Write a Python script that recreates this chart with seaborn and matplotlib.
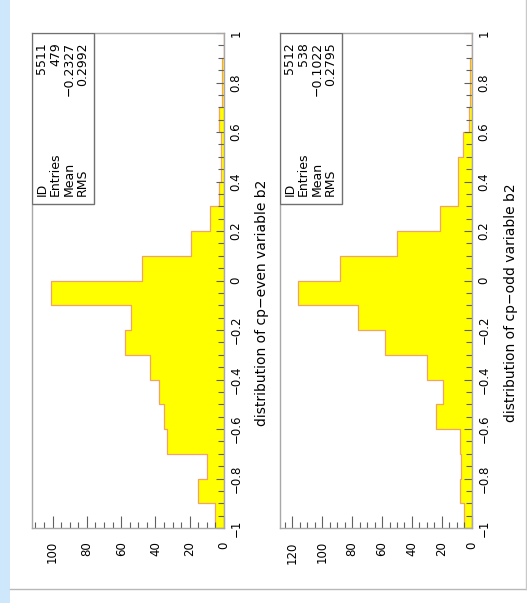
import numpy as np
import pandas as pd
import matplotlib
matplotlib.use("Agg")
import matplotlib.pyplot as plt
from matplotlib.ticker import MultipleLocator, FixedLocator, FixedFormatter
from matplotlib.patches import Rectangle
from matplotlib.lines import Line2D
import seaborn as sns

# ---------------- data ----------------
bin_edges = [-1.0, -0.9, -0.8, -0.7, -0.6, -0.5, -0.4, -0.3, -0.2, -0.1, 0.0,
             0.1, 0.2, 0.3, 0.4, 0.5, 0.6, 0.7, 0.8, 0.9, 1.0]
counts_even = [5, 15, 10, 33, 35, 38, 43, 58, 54, 101,
               48, 19, 8, 3, 2, 2, 3, 1, 1, 0]
counts_odd = [5, 8, 7, 8, 24, 19, 30, 58, 76, 116,
              88, 50, 21, 9, 9, 6, 2, 1, 1, 0]
titles = ["distribution of cp\u2212even variable b2",
          "distribution of cp\u2212odd variable b2"]
stat_labels = ["ID", "Entries", "Mean", "RMS"]
stats_even = ["5511", "479", "\u22120.2327", "0.2992"]
stats_odd = ["5512", "538", "\u22120.1022", "0.2795"]
value_ticks = [-1.0, -0.8, -0.6, -0.4, -0.2, 0.0, 0.2, 0.4, 0.6, 0.8, 1.0]
value_tick_labels = ["\u22121", "\u22120.8", "\u22120.6", "\u22120.4", "\u22120.2", "0",
                     "0.2", "0.4", "0.6", "0.8", "1"]
count_max = [112, 128]

# ---------------- figure ----------------
W, H = 527, 603
fig = plt.figure(figsize=(W / 100, H / 100), dpi=100)
fig.patch.set_facecolor("white")
plt.rcParams["font.family"] = ["DejaVu Sans"]

# page decorations
fig.patches.append(Rectangle((0, 0), 10 / W, 1, transform=fig.transFigure,
                             facecolor="#cfe7fb", edgecolor="none", zorder=0))
fig.lines.append(Line2D([10 / W, 1], [1 - 589 / H, 1 - 589 / H], transform=fig.transFigure,
                        color="#b8b8b8", lw=1))
fig.lines.append(Line2D([526 / W, 526 / W], [1 - 589 / H, 1], transform=fig.transFigure,
                        color="#c8c8c8", lw=1))

centers = [(a + b) / 2 for a, b in zip(bin_edges[:-1], bin_edges[1:])]
panels = [(32, counts_even, stats_even, titles[0], count_max[0], 262),
          (280, counts_odd, stats_odd, titles[1], count_max[1], 511)]

top, bottom = 33, 528
for (x0, counts, stats, title, cmax, lab_x) in panels:
    width = 192
    ax = fig.add_axes([x0 / W, 1 - bottom / H, width / W, (bottom - top) / H])
    df = pd.DataFrame({"value": centers, "count": counts})
    sns.histplot(data=df, y="value", weights="count", bins=bin_edges,
                 element="step", fill=True, facecolor="#ffff00",
                 edgecolor="#f2a468", linewidth=0.9, alpha=1, ax=ax)
    ax.set_xlabel("")
    ax.set_ylabel("")
    ax.set_xlim(cmax, 0)
    ax.set_ylim(-1, 1)
    for sp in ax.spines.values():
        sp.set_color("#a8a8a8")
        sp.set_linewidth(1)

    # count axis (horizontal, at bottom)
    ax.xaxis.set_major_locator(MultipleLocator(20))
    ax.xaxis.set_minor_locator(MultipleLocator(5))
    ax.tick_params(axis="x", which="major", direction="in", length=9, width=0.8,
                   color="#606060", bottom=True, top=False, labelbottom=True,
                   pad=9.5, labelsize=8.5, labelrotation=90)
    ax.tick_params(axis="x", which="minor", direction="in", length=4.5, width=0.8,
                   color="#606060", bottom=True, top=False)

    # value axis (vertical, at right)
    ax.yaxis.tick_right()
    ax.yaxis.set_major_locator(FixedLocator(value_ticks))
    ax.yaxis.set_major_formatter(FixedFormatter(value_tick_labels))
    ax.yaxis.set_minor_locator(MultipleLocator(0.05))
    ax.tick_params(axis="y", which="major", direction="in", length=6, width=0.8,
                   color="#606060", right=True, left=False, labelright=True,
                   labelleft=False, pad=4, labelsize=8.5, labelrotation=90)
    ax.tick_params(axis="y", which="minor", direction="in", length=4, width=0.8,
                   color="#606060", right=True, left=False)
    plt.setp(ax.get_yticklabels(), va="center", ha="left")

    # statistics box
    bw = 61.5 / width
    bh = (204 - top) / (bottom - top)
    ax.add_patch(Rectangle((0, 1 - bh), bw, bh, transform=ax.transAxes,
                           facecolor="white", edgecolor="#707070", lw=1, zorder=5))
    row_x = [42, 55.5, 69, 82.5]
    for rx, lab, val in zip(row_x, stat_labels, stats):
        fx = (rx - 32) / width
        ax.text(fx, 1 - (196 - top) / (bottom - top), lab, rotation=90,
                transform=ax.transAxes, ha="center", va="bottom", fontsize=9, zorder=6)
        ax.text(fx, 1 - (42 - top) / (bottom - top), val, rotation=90,
                transform=ax.transAxes, ha="center", va="top", fontsize=9, zorder=6)

    fig.text(lab_x / W, 1 - 303 / H, title, rotation=90, ha="center", va="center",
             fontsize=10)

fig.savefig("out.png", dpi=100)
